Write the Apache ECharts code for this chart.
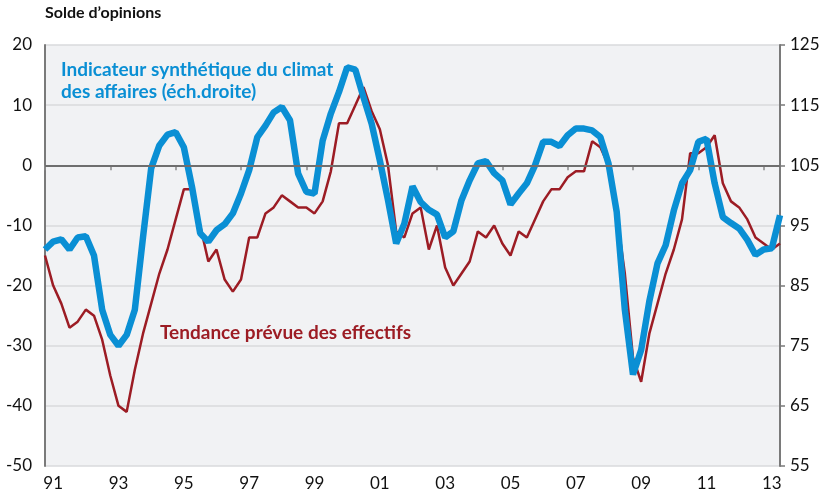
<!DOCTYPE html>
<html>
<head>
<meta charset="utf-8">
<script src="https://cdn.jsdelivr.net/npm/echarts@6/dist/echarts.min.js"></script>
<style>
  html, body { margin: 0; padding: 0; background: #fff; }
  #chart { width: 826px; height: 494px; }
</style>
</head>
<body>
<div id="chart"></div>
<script>
// trimestres de 1991T1 à 2013T3
const firstYear = 1991
const lastYear = 2013
const quarters = []
for (let y = firstYear; y <= lastYear; y++) {
  for (let q = 1; q <= 4; q++) {
    if (y === lastYear && q > 3) break
    quarters.push(y + 'T' + q)
  }
}

// Tendance prévue des effectifs (solde d'opinions, échelle gauche)
const effectifs = [
  -15, -20, -23, -27, -26, -24, -25, -29, -35, -40, -41, -34, -28, -23, -18, -14,
  -9, -4, -4, -10, -16, -14, -19, -21, -19, -12, -12, -8, -7, -5, -6, -7,
  -7, -8, -6, -1, 7, 7, 10, 13, 9, 6, 0, -11, -12, -8, -7, -14,
  -10, -17, -20, -18, -16, -11, -12, -10, -13, -15, -11, -12, -9, -6, -4, -4,
  -2, -1, -1, 4, 3, 0, -8, -18, -32, -36, -28, -23, -18, -14, -9, 2,
  2, 3, 5, -3, -6, -7, -9, -12, -13, -14, -13
]

// Indicateur synthétique du climat des affaires (échelle droite)
const climat = [
  91, 92.3, 92.7, 91, 93, 93.2, 90, 81, 76.8, 75, 76.8, 81, 93, 104.5, 108.3, 110.1,
  110.5, 108, 101.4, 93.7, 92.3, 94.2, 95.2, 97, 100.3, 104.2, 109.7, 111.6, 113.8, 114.7, 112.5, 103.6,
  100.6, 100.3, 109.1, 113.6, 117.2, 121.3, 120.9, 116.3, 111.9, 105.8, 99.2, 92, 95.3, 101.5, 98.9, 97.6,
  96.8, 93, 94, 99.2, 102.5, 105.3, 105.7, 103.7, 102.5, 98.5, 100.3, 102, 105, 108.9, 108.9, 108.2,
  110, 111.1, 111.1, 110.8, 109.7, 105.3, 97.3, 81, 70.2, 74.3, 82.4, 88.7, 91.7, 97.5, 102, 104.2,
  108.9, 109.4, 102, 96.4, 95.4, 94.5, 92.6, 90.1, 91, 91.2, 96.7
]

const BLUE = '#0a8fd4'
const RED = '#9c1c24'
const FONT = 'Lato'

let chart = echarts.init(document.getElementById('chart'))
chart.setOption({
  animation: false,
  textStyle: { fontFamily: FONT },
  grid: {
    left: 45, right: 46, top: 45, bottom: 28,
    show: true, backgroundColor: '#f1f2f4', borderWidth: 0
  },
  graphic: [
    { type: 'text', left: 45, top: 5,
      style: { text: 'Solde d’opinions', font: 'bold 16px ' + FONT, fill: '#111' } },
    { type: 'text', left: 61, top: 59,
      style: { text: 'Indicateur synthétique du climat\ndes affaires (éch.droite)',
               font: 'bold 19px ' + FONT, fill: BLUE, lineHeight: 22 } },
    { type: 'text', left: 160, top: 323,
      style: { text: 'Tendance prévue des effectifs', font: 'bold 19px ' + FONT, fill: RED } }
  ],
  xAxis: {
    type: 'category',
    data: quarters,
    boundaryGap: false,
    axisLine: { show: false },
    axisTick: {
      show: true, length: 5,
      interval: (i) => i % 8 === 0,
      lineStyle: { color: '#8a8a8a', width: 1.5 }
    },
    axisLabel: {
      interval: (i) => i % 8 === 1,
      formatter: (v) => v.slice(2, 4),
      color: '#111', fontSize: 17, margin: 9
    },
    splitLine: { show: false }
  },
  yAxis: [
    {
      type: 'value', min: -50, max: 20, interval: 10,
      axisLine: { show: true, lineStyle: { color: '#7a7a7a', width: 2 } },
      axisTick: { show: false },
      axisLabel: { color: '#111', fontSize: 17, margin: 13 },
      splitLine: { show: true, lineStyle: { color: '#d9dadd', width: 1.5 } }
    },
    {
      type: 'value', min: 55, max: 125, interval: 10,
      position: 'right',
      axisLine: { show: true, lineStyle: { color: '#7a7a7a', width: 2 } },
      axisTick: { show: true, length: 5, lineStyle: { color: '#7a7a7a', width: 1.5 } },
      axisLabel: { color: '#111', fontSize: 17, margin: 10 },
      splitLine: { show: false }
    }
  ],
  series: [
    {
      name: 'Tendance prévue des effectifs',
      type: 'line',
      yAxisIndex: 0,
      data: effectifs,
      showSymbol: false,
      lineStyle: { color: RED, width: 2.5 },
      z: 3,
      markLine: {
        silent: true,
        symbol: ['none', 'none'],
        label: { show: false },
        lineStyle: { color: '#6e6e6e', width: 2, type: 'solid' },
        data: [{ yAxis: 0 }]
      }
    },
    {
      name: 'Indicateur synthétique du climat des affaires',
      type: 'line',
      yAxisIndex: 1,
      data: climat,
      showSymbol: false,
      lineStyle: { color: BLUE, width: 6.5 },
      z: 4
    }
  ]
});
</script>
</body>
</html>
